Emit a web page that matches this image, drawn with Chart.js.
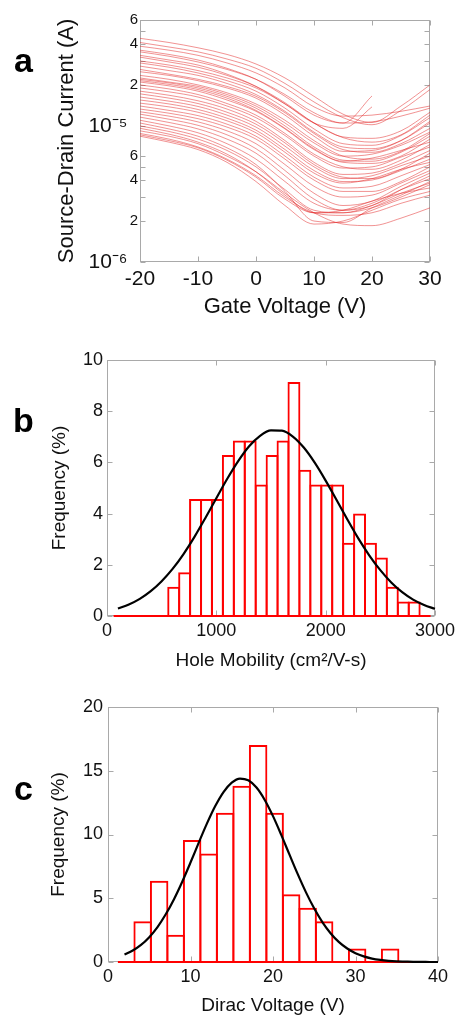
<!DOCTYPE html>
<html><head><meta charset="utf-8">
<script src="https://cdn.jsdelivr.net/npm/chart.js@4.4.1/dist/chart.umd.min.js"></script>
<style>
html,body{margin:0;padding:0;background:#fff;width:459px;height:1017px;overflow:hidden}
canvas{position:absolute;left:0}
.lbl{position:absolute;font:bold 34px 'Liberation Sans',Arial,sans-serif;line-height:34px;color:#000}
</style></head><body>
<canvas id="ca" width="459" height="330" style="top:0"></canvas>
<canvas id="cb" width="459" height="340" style="top:340px"></canvas>
<canvas id="cc" width="459" height="327" style="top:690px"></canvas>
<div class="lbl" style="left:14px;top:43px">a</div>
<div class="lbl" style="left:13px;top:403px">b</div>
<div class="lbl" style="left:14px;top:771px">c</div>
<script>
// ---------- Panel a: transfer curves (current in µA) ----------
const gateV = [-20,-15,-10,-5,0,5,10,15,20,25,30];
const curves_uA = [
  [44,41,37.5,33.5,28.5,22.5,16.5,12.2,10.6,14,20],
  [41,38,35,31,26.5,20.5,15,11.5,10.2,13,18.5],
  [38.5,36,33,29,24.5,19,13.8,11.8,12,12.8,14],
  [36,33.5,30.5,26.5,22,16.5,12,10.5,16.6],
  [33,30.5,28,24,19.5,14.5,10.5,9.6,13.8],
  [35,32.5,29.5,26,22,17,12.5,10.5,10.7,11.8,13.5],
  [32,29.5,27,23.5,19.5,14.8,10.5,8.3,8.1,9.2,12.6],
  [30,28,25.5,22.5,19,14.5,10.5,8.2,7.6,8.6,12],
  [29,27,24.5,21.5,18,13.5,9.5,7.4,7.2,8.5,11.5],
  [27.5,25.5,23.5,20.5,17,12.8,9,7,6.8,7.8,10.5],
  [26,24,22,19.5,16.5,12.5,8.8,6.7,6.4,7.4,9.6],
  [25,23.5,21.5,19,16,12,8.4,6.5,6.6,7.8,10.8],
  [23.5,22,20,17.5,14.5,11,7.8,6,5.7,6.5,8.8],
  [22.5,21,19.5,17,14,10.5,7.5,6,6.2,7.2,9],
  [22,20.7,19,16.5,13.5,10,7,5.6,5.5,6.4,8.4],
  [21.5,20.2,18.5,16,13,9.6,6.8,5.4,5.3,6,8],
  [21,19.7,18,15.5,12.8,9.5,6.7,5.5,5.8,6.6,7.6],
  [20,18.7,17,14.6,12,8.8,6.2,5,4.8,5.6,7.3],
  [19,17.8,16.3,14,11.5,8.5,6,4.9,5,5.9,7],
  [18,16.8,15.3,13.3,10.8,7.8,5.4,4.4,4.5,5.3,6.6],
  [17.2,16,14.6,12.6,10.3,7.5,5.2,4.2,4.1,4.8,6.3],
  [16.3,15.2,13.9,12,9.8,7.1,5,4.1,4.3,5.1,6],
  [15.5,14.5,13.2,11.4,9.3,6.7,4.7,3.9,4,4.7,5.7],
  [14.7,13.8,12.6,10.9,8.9,6.4,4.5,3.8,4.1,4.8,5.4],
  [14,13,11.9,10.3,8.4,6,4.2,3.5,3.6,4.3,5.2],
  [13.3,12.4,11.3,9.8,8,5.7,4,3.3,3.3,3.9,5],
  [12.7,11.8,10.7,9.2,7.4,5.2,3.6,3,3.1,3.8,4.7],
  [12.2,11.2,10.1,8.6,6.8,4.7,3.2,2.6,2.8,3.6,4.5],
  [11.6,10.6,9.5,8,6.3,4.3,2.9,2.4,2.6,3.4,4.3],
  [11,10,8.9,7.4,5.7,3.9,2.7,2.4,2.7,3.4,4.1],
  [10.5,9.5,8.4,6.9,5.2,3.3,2.0,1.95,2.5,3.1,3.9],
  [10,9.1,8,6.6,5,3.4,2.4,2.3,2.5,3.0,3.7],
  [9.6,8.7,7.6,6.2,4.6,3.1,2.3,2.4,2.8,3.2,3.5],
  [9.2,8.4,7.4,6,4.6,3.2,2.3,1.9,1.85,2.1,2.5],
  [8.8,8,7,5.7,4.3,3.0,2.3,2.2,2.3,2.7,3.1],
  [8.4,7.6,6.7,5.4,3.9,2.6,1.9,2.0,2.4,2.9,3.3],
  [8.6,7.8,6.9,5.6,4.2,2.9,2.3,2.3,2.6,3.2,3.8]
];
const aXTicks = [-20,-10,0,10,20,30];
const aXTickLabels = ['-20','-10','0','10','20','30'];
const aYTicks = [1e-6,2e-6,3e-6,4e-6,5e-6,6e-6,1e-5,2e-5,3e-5,4e-5,5e-5,6e-5];
const aYTickLabels = ['10\u207B\u2076\u2002','2','','4','','6','10\u207B\u2075\u2002','2','','4','','6'];

// ---------- Panel b: hole mobility histogram ----------
const bBinCenters = [110,210,310,410,510,610,710,810,910,1010,1110,1210,1310,1410,1510,1610,1710,1810,1910,2010,2110,2210,2310,2410,2510,2610,2710,2810,2910];
const bFreq = [0,0,0,0,0,1.14,1.71,4.57,4.57,4.57,6.29,6.86,6.86,5.14,6.29,6.86,9.14,5.71,5.14,5.14,5.14,2.86,4.0,2.86,2.29,1.14,0.57,0.57,0];
const bFitX = [100,200,300,400,500,600,700,800,900,1000,1100,1200,1300,1400,1500,1600,1700,1800,1900,2000,2100,2200,2300,2400,2500,2600,2700,2800,2900,3000];
const bFitY = [0.29,0.45,0.67,0.97,1.36,1.84,2.42,3.09,3.83,4.60,5.36,6.05,6.63,7.04,7.25,7.24,7.01,6.58,5.99,5.29,4.53,3.76,3.02,2.36,1.79,1.31,0.93,0.64,0.43,0.28];
const bXTicks = [0,1000,2000,3000];
const bXTickLabels = ['0','1000','2000','3000'];
const bYTicks = [0,2,4,6,8,10];
const bYTickLabels = ['0','2','4','6','8','10'];

// ---------- Panel c: Dirac voltage histogram ----------
const cBinCenters = [2.2,4.2,6.2,8.2,10.2,12.2,14.2,16.2,18.2,20.2,22.2,24.2,26.2,28.2,30.2,32.2,34.2,36.2,38.2];
const cFreq = [0,3.19,6.38,2.13,9.57,8.51,11.70,13.83,17.02,11.70,5.32,4.26,3.19,0,1.06,0,1.06,0,0];
const cFitX = [2,3,4,5,6,7,8,9,10,11,12,13,14,15,16,17,18,19,20,21,22,23,24,25,26,27,28,29,30,31,32,33,34,35,36,37,38,39,40];
const cFitY = [0.58,0.90,1.34,1.95,2.74,3.74,4.93,6.30,7.80,9.36,10.87,12.23,13.33,14.07,14.39,14.25,13.68,12.71,11.44,9.97,8.42,6.89,5.46,4.19,3.11,2.24,1.56,1.06,0.69,0.44,0.27,0.16,0.09,0.05,0.03,0.01,0.01,0,0];
const cXTicks = [0,10,20,30,40];
const cXTickLabels = ['0','10','20','30','40'];
const cYTicks = [0,5,10,15,20];
const cYTickLabels = ['0','5','10','15','20'];

// ---------- common ----------
Chart.defaults.font.family = "'Liberation Sans', Arial, sans-serif";
Chart.defaults.color = '#111';

const frame = {
  id: 'frame',
  beforeDatasetsDraw(chart, args, o) {
    const {ctx, chartArea: a, scales: {x, y}} = chart;
    const L = o.len || 5;
    ctx.save();
    ctx.strokeStyle = o.color || '#aaa';
    ctx.lineWidth = 1;
    const l = Math.round(a.left) + 0.5, r = Math.round(a.right) - 0.5, t = Math.round(a.top) + 0.5, b = Math.round(a.bottom) - 0.5;
    ctx.strokeRect(l, t, r - l, b - t);
    ctx.beginPath();
    x.ticks.forEach(tk => {
      const p = Math.round(x.getPixelForValue(tk.value)) + 0.5;
      ctx.moveTo(p, b); ctx.lineTo(p, b - L);
      ctx.moveTo(p, t); ctx.lineTo(p, t + L);
    });
    y.ticks.forEach(tk => {
      const p = Math.round(y.getPixelForValue(tk.value)) + 0.5;
      ctx.moveTo(l, p); ctx.lineTo(l + L, p);
      ctx.moveTo(r, p); ctx.lineTo(r - L, p);
    });
    ctx.stroke();
    ctx.restore();
  }
};

function baseOpts(padTop, padRight) {
  return {
    responsive: false, animation: false, devicePixelRatio: 1, events: [],
    layout: {padding: {top: padTop, right: padRight, bottom: 0, left: 0}},
    plugins: {legend: {display: false}, tooltip: {enabled: false}, frame: {color: '#a9a9a9', len: 5}}
  };
}
const noGrid = {display: false, drawTicks: false};

// Panel a
(function(){
  const o = baseOpts(20, 29);
  o.scales = {
    x: {
      type: 'linear', min: -20, max: 30,
      afterBuildTicks: s => { s.ticks = aXTicks.map(v => ({value: v})); },
      ticks: {autoSkip: false, maxRotation: 0, padding: 5, font: {size: 21},
              callback: (v, i) => aXTickLabels[i]},
      grid: noGrid, border: {display: false},
      title: {display: true, text: 'Gate Voltage (V)', font: {size: 22}, padding: {top: 0, bottom: 10}},
      afterFit: s => { s.height = 68; }
    },
    y: {
      type: 'logarithmic', min: 1e-6, max: 6e-5,
      afterBuildTicks: s => { s.ticks = aYTicks.map(v => ({value: v})); },
      ticks: {autoSkip: false, padding: 2,
              font: ctx => ({size: (aYTickLabels[ctx.index] || '').startsWith('10') ? 21 : 15}),
              callback: (v, i) => aYTickLabels[i]},
      grid: noGrid, border: {display: false},
      title: {display: true, text: 'Source-Drain Current (A)', font: {size: 22}, padding: {top: 54, bottom: 0}},
      afterFit: s => { s.width = 140; }
    }
  };
  new Chart(document.getElementById('ca'), {
    type: 'line',
    data: {datasets: curves_uA.map(c => ({
      data: c.map((v, i) => ({x: gateV[i], y: v * 1e-6})),
      borderColor: 'rgba(228,40,40,0.5)', borderWidth: 1, pointRadius: 0,
      cubicInterpolationMode: 'monotone', fill: false
    }))},
    options: o,
    plugins: [frame]
  });
})();

function histChart(id, centers, freq, fitX, fitY, xTicks, xLabels, yTicks, yLabels, xMax, yMax, xTitle, geom) {
  const halfBin = (centers[1] - centers[0]) / 2;
  const o = baseOpts(geom.top, geom.right);
  o.scales = {
    x: {
      type: 'linear', min: 0, max: xMax, offset: false,
      afterBuildTicks: s => { s.ticks = xTicks.map(v => ({value: v})); },
      ticks: {autoSkip: false, maxRotation: 0, padding: 4, font: {size: 18}, callback: (v, i) => xLabels[i]},
      grid: {display: false, drawTicks: false, offset: false}, border: {display: false},
      title: {display: true, text: xTitle, font: {size: 19}, padding: {top: 0, bottom: geom.xTitlePad}},
      afterFit: s => { s.height = geom.xH; }
    },
    y: {
      type: 'linear', min: 0, max: yMax,
      afterBuildTicks: s => { s.ticks = yTicks.map(v => ({value: v})); },
      ticks: {autoSkip: false, padding: geom.yTickPad, font: {size: 18}, callback: (v, i) => yLabels[i]},
      grid: noGrid, border: {display: false},
      title: {display: true, text: 'Frequency (%)', font: {size: 19}, padding: {top: geom.yTitlePad, bottom: 0}},
      afterFit: s => { s.width = geom.yW; }
    }
  };
  new Chart(document.getElementById(id), {
    type: 'bar',
    data: {datasets: [
      {type: 'line', order: 0, data: fitX.map((v, i) => ({x: v, y: fitY[i]})),
       borderColor: '#000', borderWidth: 2.2, pointRadius: 0, cubicInterpolationMode: 'monotone', fill: false, clip: false},
      {type: 'line', order: 1, data: [{x: centers[0] - halfBin, y: 0}, {x: centers[centers.length - 1] + halfBin, y: 0}],
       borderColor: '#ff0000', borderWidth: 2, pointRadius: 0, fill: false, clip: false},
      {type: 'bar', order: 2, data: centers.map((v, i) => ({x: v, y: freq[i]})),
       borderColor: '#ff0000', backgroundColor: 'rgba(255,255,255,0)', borderWidth: 2,
       borderSkipped: 'start', categoryPercentage: 1, barPercentage: geom.barPct, clip: false}
    ]},
    options: o,
    plugins: [frame]
  });
}

histChart('cb', bBinCenters, bFreq, bFitX, bFitY, bXTicks, bXTickLabels, bYTicks, bYTickLabels, 3000, 10, 'Hole Mobility (cm\u00B2/V-s)',
  {top: 20, right: 21, xH: 64, yW: 107, xTitlePad: 8, yTitlePad: 48, yTickPad: 4, barPct: 1.18});
histChart('cc', cBinCenters, cFreq, cFitX, cFitY, cXTicks, cXTickLabels, cYTicks, cYTickLabels, 40, 20, 'Dirac Voltage (V)',
  {top: 17, right: 21, xH: 55, yW: 108, xTitlePad: 0, yTitlePad: 47, yTickPad: 5, barPct: 1.12});
</script>
</body></html>
